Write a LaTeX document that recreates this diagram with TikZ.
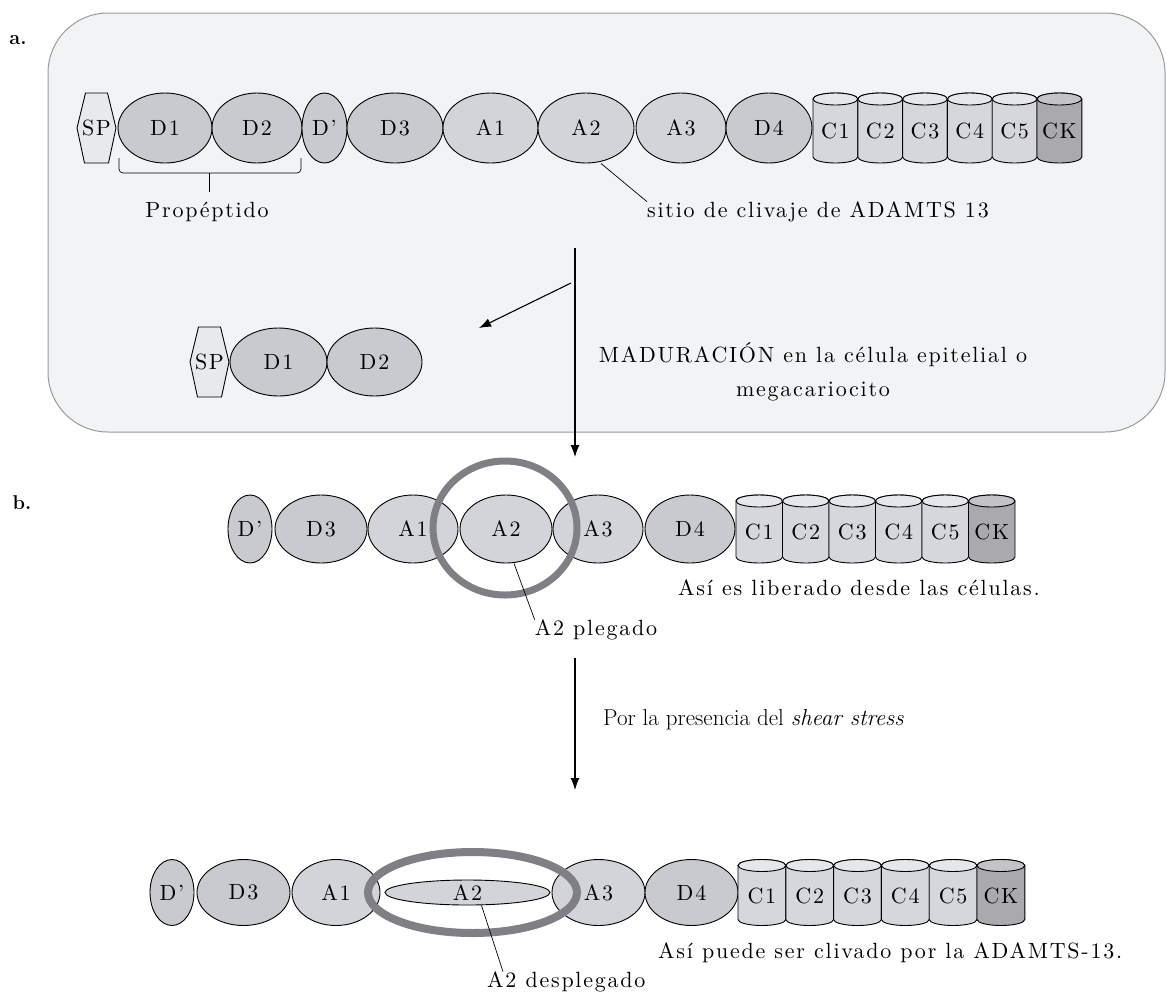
\documentclass[tikz,border=0pt]{standalone}
\usepackage{fontspec}
\newfontfamily\spfont{lmroman10-regular.otf}[LetterSpace=8]
\usetikzlibrary{shapes.geometric,arrows.meta}
\definecolor{boxfill}{HTML}{F2F3F5}
\definecolor{boxline}{HTML}{9A9A9A}
\definecolor{dfill}{HTML}{C9CACF}
\definecolor{afill}{HTML}{D3D4D9}
\definecolor{cfill}{HTML}{D6D7DC}
\definecolor{ctop}{HTML}{E6E7EB}
\definecolor{ckfill}{HTML}{A9A9AE}
\definecolor{cktop}{HTML}{C4C4C8}
\definecolor{spfill}{HTML}{E8E9EC}
\definecolor{ringc}{HTML}{7F7F85}
\newcommand\cylshape[7]{%
  \filldraw[line width=0.9pt, fill=#6] (#2-#4,#3-#5+6) -- (#2-#4,#3+#5-6)
    arc[start angle=180,end angle=360,x radius=#4pt,y radius=6pt]
    -- (#2+#4,#3-#5+6)
    arc[start angle=0,end angle=180,x radius=#4pt,y radius=6pt] -- cycle;
  \node[lab] (#1) at (#2,#3+3) {#7};
}
\newcommand\captop[5]{%
  \filldraw[line width=0.9pt, fill=#5] (#1,#2-#4+6) ellipse[x radius=#3pt,y radius=6pt];
}
\newcommand\hexsp[3]{%
  \filldraw[line width=0.9pt, fill=spfill] (#2,#3) +(-11,-35) -- +(11,-35) -- +(19.5,0)
    -- +(12,35) -- +(-12,35) -- +(-19.5,0) -- cycle;
  \node[lab] (#1) at (#2,#3) {SP};
}
\tikzset{
  lab/.style={inner sep=0pt, font=\spfont\fontsize{22}{26}\selectfont},
  txt/.style={inner sep=0pt, font=\spfont\fontsize{22}{34}\selectfont},
  dom/.style={ellipse, draw=black, line width=0.9pt, inner sep=0pt, font=\spfont\fontsize{22}{26}\selectfont},
  ddom/.style={dom, fill=dfill},
  adom/.style={dom, fill=afill},
  ring/.style={ellipse, draw=ringc, inner sep=0pt},
  arr/.style={line width=1.1pt, -{Latex[length=12pt,width=9pt]}},
  lead/.style={line width=0.7pt},
}
\begin{document}
\begin{tikzpicture}[x=1pt,y=-1pt]
\useasboundingbox (0,0) rectangle (1167,997);
% panel a background
\draw[fill=boxfill, draw=boxline, line width=1pt, rounded corners=60pt] (48,13) rectangle (1165,432);
\node[font=\fontsize{20}{24}\selectfont\bfseries, inner sep=0pt] (la) at (18,40) {a.};
\node[font=\fontsize{20}{24}\selectfont\bfseries, inner sep=0pt] (lb) at (22,503) {b.};

% ---------- row 1 ----------
\hexsp{SPa}{96.5}{128}
\node[ddom, minimum width=94pt, minimum height=70pt] (D1a) at (165,128) {D1};
\node[ddom, minimum width=90pt, minimum height=70pt] (D2a) at (257,128) {D2};
\node[ddom, minimum width=45pt, minimum height=70pt] (Dpa) at (324.5,128) {D’};
\node[ddom, minimum width=96pt, minimum height=70pt] (D3a) at (395,128) {D3};
\node[adom, minimum width=95pt, minimum height=70pt] (A1a) at (490.5,128) {A1};
\node[adom, minimum width=96pt, minimum height=70pt] (A2a) at (586,128) {A2};
\node[adom, minimum width=90pt, minimum height=70pt] (A3a) at (681,128) {A3};
\node[ddom, minimum width=86pt, minimum height=70pt] (D4a) at (769,128) {D4};
\cylshape{C1a}{835.4}{128}{22.4}{35}{cfill}{}
\cylshape{C2a}{880.2}{128}{22.4}{35}{cfill}{}
\cylshape{C3a}{925}{128}{22.4}{35}{cfill}{}
\cylshape{C4a}{969.8}{128}{22.4}{35}{cfill}{}
\cylshape{C5a}{1014.6}{128}{22.4}{35}{cfill}{}
\cylshape{CKa}{1059.4}{128}{22.4}{35}{ckfill}{}
\captop{835.4}{128}{22.4}{35}{ctop}
\captop{880.2}{128}{22.4}{35}{ctop}
\captop{925}{128}{22.4}{35}{ctop}
\captop{969.8}{128}{22.4}{35}{ctop}
\captop{1014.6}{128}{22.4}{35}{ctop}
\captop{1059.4}{128}{22.4}{35}{cktop}
\node[lab] at (C1a) {C1};
\node[lab] at (C2a) {C2};
\node[lab] at (C3a) {C3};
\node[lab] at (C4a) {C4};
\node[lab] at (C5a) {C5};
\node[lab] at (CKa) {CK};

% propeptide bracket
\draw[lead, rounded corners=4pt] (119,158) -- (119,173) -- (301,173) -- (301,158);
\draw[lead] (209,173) -- (209,192);
\node[txt] (prop) at (207,212) {Propéptido};
\node[txt, anchor=west] (sitio) at (647,212) {sitio de clivaje de ADAMTS 13};
\draw[lead] (A2a.south) ++(15,0) -- (sitio.north west);

% ---------- row 2 ----------
\hexsp{SPb}{209.5}{362}
\node[ddom, minimum width=97pt, minimum height=68pt] (D1b) at (278.5,362) {D1};
\node[ddom, minimum width=95pt, minimum height=68pt] (D2b) at (374.5,362) {D2};

% arrows
\coordinate (m1) at (575,248);
\coordinate (m2) at (575,457);
\coordinate (d1) at (571,283);
\coordinate (d2) at (479,328);
\draw[arr] (m1) -- (m2);
\draw[arr] (d1) -- (d2);
\node[txt, align=center] (mad) at (813,372) {MADURACIÓN en la célula epitelial o\\megacariocito};

% ---------- row b ----------
\node[ddom, minimum width=44pt, minimum height=68pt] (Dpb) at (250,529) {D’};
\node[ddom, minimum width=92pt, minimum height=68pt] (D3b) at (321,529) {D3};
\node[adom, minimum width=90pt, minimum height=68pt] (A1b) at (413,529) {A1};
\node[adom, minimum width=92pt, minimum height=68pt] (A2b) at (506,529) {A2};
\node[adom, minimum width=90pt, minimum height=68pt] (A3b) at (598,529) {A3};
\node[ddom, minimum width=90pt, minimum height=68pt] (D4b) at (690,529) {D4};
\cylshape{C1b}{759.25}{529}{23.25}{34}{cfill}{}
\cylshape{C2b}{805.75}{529}{23.25}{34}{cfill}{}
\cylshape{C3b}{852.25}{529}{23.25}{34}{cfill}{}
\cylshape{C4b}{898.75}{529}{23.25}{34}{cfill}{}
\cylshape{C5b}{945.25}{529}{23.25}{34}{cfill}{}
\cylshape{CKb}{991.75}{529}{23.25}{34}{ckfill}{}
\captop{759.25}{529}{23.25}{34}{ctop}
\captop{805.75}{529}{23.25}{34}{ctop}
\captop{852.25}{529}{23.25}{34}{ctop}
\captop{898.75}{529}{23.25}{34}{ctop}
\captop{945.25}{529}{23.25}{34}{ctop}
\captop{991.75}{529}{23.25}{34}{cktop}
\node[lab] at (C1b) {C1};
\node[lab] at (C2b) {C2};
\node[lab] at (C3b) {C3};
\node[lab] at (C4b) {C4};
\node[lab] at (C5b) {C5};
\node[lab] at (CKb) {CK};
\node[ring, line width=7pt, minimum width=144pt, minimum height=134pt] (ringb) at (505,528) {};
\node[txt, anchor=west] (lib) at (678,588) {Así es liberado desde las células.};
\node[txt] (pleg) at (596,630) {A2 plegado};
\draw[lead] ([xshift=8pt]A2b.south) -- (pleg.north west);

% arrow 2
\coordinate (s1) at (575,658);
\coordinate (s2) at (575,790);
\draw[arr] (s1) -- (s2);
\node[inner sep=0pt, anchor=west, font=\fontsize{23}{27}\selectfont] (shear) at (603,720) {Por la presencia del \textit{shear stress}};

% ---------- bottom row ----------
\node[ddom, minimum width=44pt, minimum height=66pt] (Dpc) at (172,892.5) {D’};
\node[ddom, minimum width=93pt, minimum height=66pt] (D3c) at (243.5,892.5) {D3};
\node[adom, minimum width=88pt, minimum height=66pt] (A1c) at (336,892.5) {A1};
\node[adom, minimum width=165pt, minimum height=25pt] (A2c) at (467.5,892.5) {};
\node[lab] (A2ct) at (A2c) {A2};
\node[adom, minimum width=93pt, minimum height=66pt] (A3c) at (598.5,892.5) {A3};
\node[ddom, minimum width=93pt, minimum height=66pt] (D4c) at (691.5,892.5) {D4};
\cylshape{C1c}{761.9}{892.5}{23.9}{33}{cfill}{}
\cylshape{C2c}{809.7}{892.5}{23.9}{33}{cfill}{}
\cylshape{C3c}{857.5}{892.5}{23.9}{33}{cfill}{}
\cylshape{C4c}{905.3}{892.5}{23.9}{33}{cfill}{}
\cylshape{C5c}{953.1}{892.5}{23.9}{33}{cfill}{}
\cylshape{CKc}{1000.9}{892.5}{23.9}{33}{ckfill}{}
\captop{761.9}{892.5}{23.9}{33}{ctop}
\captop{809.7}{892.5}{23.9}{33}{ctop}
\captop{857.5}{892.5}{23.9}{33}{ctop}
\captop{905.3}{892.5}{23.9}{33}{ctop}
\captop{953.1}{892.5}{23.9}{33}{ctop}
\captop{1000.9}{892.5}{23.9}{33}{cktop}
\node[lab] at (C1c) {C1};
\node[lab] at (C2c) {C2};
\node[lab] at (C3c) {C3};
\node[lab] at (C4c) {C4};
\node[lab] at (C5c) {C5};
\node[lab] at (CKc) {CK};
\node[ring, line width=8pt, minimum width=209pt, minimum height=81pt] (ringc) at (472.5,892.5) {};
\node[txt, anchor=west] (cliv) at (658,953) {Así puede ser clivado por la ADAMTS-13.};
\node[txt, anchor=west] (despl) at (487,982) {A2 desplegado};
\draw[lead] ([xshift=14pt]A2c.south) -- ([xshift=16pt]despl.north west);
\end{tikzpicture}
\end{document}
